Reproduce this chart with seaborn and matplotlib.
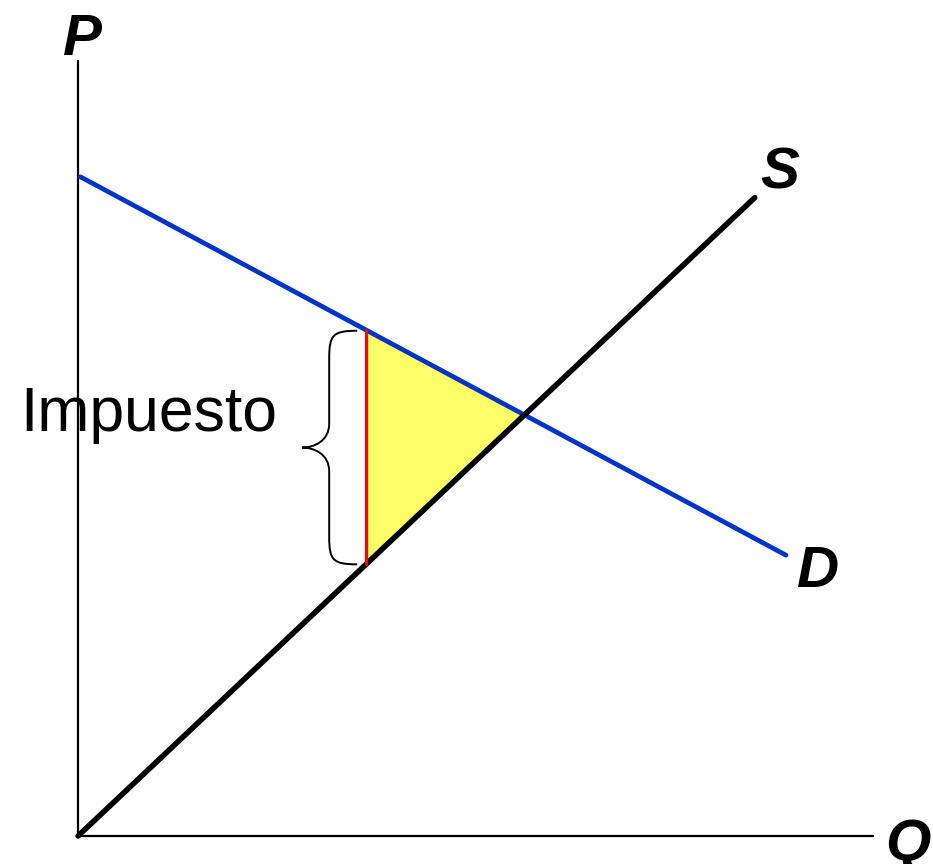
"""Supply/demand diagram with a tax wedge (deadweight loss triangle)."""
import matplotlib
matplotlib.use("Agg")
import matplotlib.pyplot as plt
from matplotlib.path import Path
import matplotlib.patches as mpatches
import numpy as np
import seaborn as sns

# ---------------------------------------------------------------------------
# Data (economic units, origin at the axes corner)
# ---------------------------------------------------------------------------
demand_q = [0.03, 8.85]
demand_p = [8.24, 3.51]
supply_q = [0.0, 8.46]
supply_p = [0.0, 7.98]
tax_q = 3.6            # quantity traded with the tax
axis_q_max = 9.94
axis_p_max = 9.69

sns.set_theme(style="white")
plt.rcParams["font.family"] = ["Liberation Sans", "DejaVu Sans"]

fig = plt.figure(figsize=(9.33, 8.64), dpi=100)
ax = fig.add_axes([0, 0, 1, 1])
ax.set_xlim(-0.975, 10.6875)
ax.set_ylim(-0.35, 10.45)
ax.axis("off")


def _line(x, y, **kw):
    sns.lineplot(x=x, y=y, ax=ax, estimator=None, sort=False, **kw)


# equilibrium and the wedge
d_fit = np.polyfit(demand_q, demand_p, 1)
s_fit = np.polyfit(supply_q, supply_p, 1)
eq_q = (d_fit[1] - s_fit[1]) / (s_fit[0] - d_fit[0])
eq_p = np.polyval(s_fit, eq_q)
p_buyer = np.polyval(d_fit, tax_q)
p_seller = np.polyval(s_fit, tax_q)

ax.fill([tax_q, eq_q, tax_q], [p_buyer, eq_p, p_seller],
        color="#FFFF66", lw=0, zorder=1)

# axes
_line([0, 0], [0, axis_p_max], color="black", lw=1.6)
_line([0, axis_q_max], [0, 0], color="black", lw=1.6)

# curves
_line(demand_q, demand_p, color="#0033CC", lw=3.4, zorder=3)
_line(supply_q, supply_p, color="black", lw=4.0, zorder=3)
_line([tax_q, tax_q], [p_buyer, p_seller], color="#FF0000", lw=2.4, zorder=4)

# curly brace left of the wedge
x_end, x_mid, x_tip = tax_q - 0.11, tax_q - 0.46, tax_q - 0.80
y_top, y_bot = p_buyer - 0.01, p_seller
y_mid = (y_top + y_bot) / 2
r1, r2 = 0.34, 0.30
verts = [
    (x_end, y_top),
    (x_mid + 0.05, y_top), (x_mid, y_top - 0.05), (x_mid, y_top - r1),
    (x_mid, y_mid + r2),
    (x_mid, y_mid + 0.08), (x_tip + 0.15, y_mid), (x_tip, y_mid),
    (x_tip + 0.15, y_mid), (x_mid, y_mid - 0.08), (x_mid, y_mid - r2),
    (x_mid, y_bot + r1),
    (x_mid, y_bot + 0.05), (x_mid + 0.05, y_bot), (x_end, y_bot),
]
codes = [Path.MOVETO,
         Path.CURVE4, Path.CURVE4, Path.CURVE4,
         Path.LINETO,
         Path.CURVE4, Path.CURVE4, Path.CURVE4,
         Path.CURVE4, Path.CURVE4, Path.CURVE4,
         Path.LINETO,
         Path.CURVE4, Path.CURVE4, Path.CURVE4]
ax.add_patch(mpatches.PathPatch(Path(verts, codes), fill=False, lw=1.4,
                                edgecolor="black", zorder=2))

# labels
lab = dict(fontsize=42, fontweight="bold", fontstyle="italic", ha="center",
           va="baseline", color="black")
ax.text(0.06, 9.76, "P", **lab)
ax.text(10.375, -0.30, "Q", **lab)
ax.text(8.775, 8.09, "S", **lab)
ax.text(9.25, 3.11, "D", **lab)
ax.text(0.89, 5.06, "Impuesto", fontsize=45, ha="center", va="baseline",
        color="black", zorder=5)

fig.savefig("out.png", dpi=100)
